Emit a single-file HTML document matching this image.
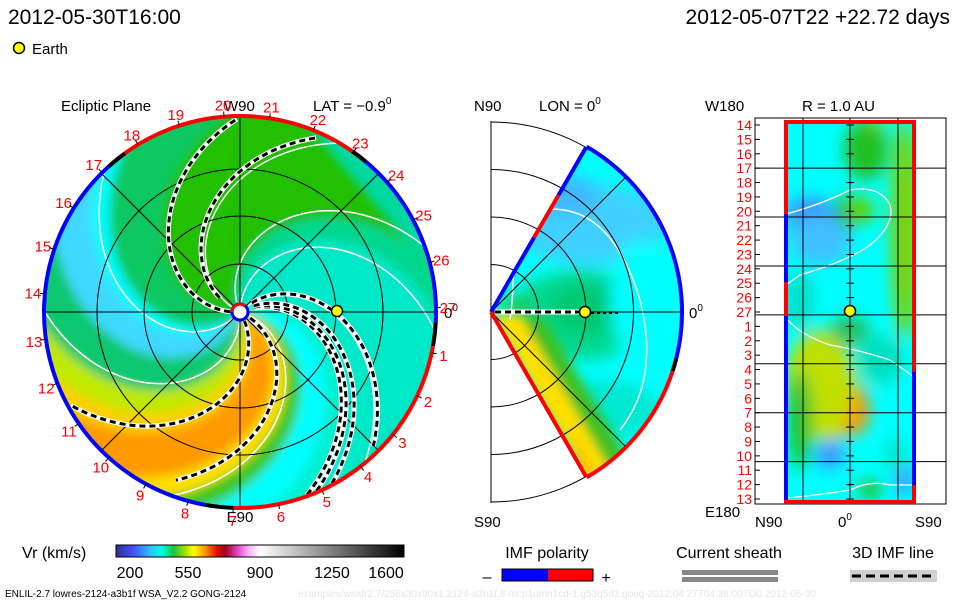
<!DOCTYPE html>
<html><head><meta charset="utf-8">
<style>
html,body{margin:0;padding:0;background:#fff;}
svg{display:block;font-family:"Liberation Sans",sans-serif;}
</style></head>
<body>
<svg id="root" width="960" height="600" viewBox="0 0 960 600" xmlns="http://www.w3.org/2000/svg">
<defs>
  <clipPath id="diskClip"><circle cx="240" cy="312" r="195"/></clipPath>
  <clipPath id="wedgeClip"><path d="M491,312 L586,147.5 A190,190 0 0 1 586,476.5 Z"/></clipPath>
  <clipPath id="rectClip"><rect x="786" y="122" width="129" height="380"/></clipPath>
  <clipPath id="midBox"><rect x="490" y="118" width="200" height="386"/></clipPath>
  <filter id="blur4" x="-10%" y="-10%" width="120%" height="120%"><feGaussianBlur stdDeviation="5"/></filter>
  <filter id="blur8" x="-30%" y="-30%" width="160%" height="160%"><feGaussianBlur stdDeviation="8"/></filter>
  <linearGradient id="cbar" x1="0" x2="1" y1="0" y2="0">
    <stop offset="0" stop-color="#303090"/>
    <stop offset="0.06" stop-color="#4050ff"/>
    <stop offset="0.12" stop-color="#30c0ff"/>
    <stop offset="0.16" stop-color="#00ffe0"/>
    <stop offset="0.2" stop-color="#20c040"/>
    <stop offset="0.24" stop-color="#a0e000"/>
    <stop offset="0.27" stop-color="#ffff00"/>
    <stop offset="0.31" stop-color="#ff9000"/>
    <stop offset="0.35" stop-color="#e01000"/>
    <stop offset="0.38" stop-color="#a00020"/>
    <stop offset="0.42" stop-color="#e040c0"/>
    <stop offset="0.46" stop-color="#ffb0ff"/>
    <stop offset="0.5" stop-color="#ffffff"/>
    <stop offset="1" stop-color="#000000"/>
  </linearGradient>
</defs>

<text x="8" y="24" font-size="21" fill="#000">2012-05-30T16:00</text>
<text x="950" y="24" font-size="21" fill="#000" text-anchor="end">2012-05-07T22 +22.72 days</text>
<circle cx="19" cy="48" r="5.5" fill="#ffff00" stroke="#000" stroke-width="1.5"/>
<text x="32" y="54" font-size="15" fill="#000">Earth</text>

<text x="61" y="111" font-size="15">Ecliptic Plane</text>
<text x="313" y="111" font-size="15">LAT = −0.9<tspan font-size="10" dy="-7">0</tspan></text>
<text x="224" y="111" font-size="15">W90</text>
<text x="240" y="522" font-size="15" text-anchor="middle">E90</text>
<text x="444" y="318" font-size="15">0<tspan font-size="10" dy="-7">0</tspan></text>

<text x="474" y="111" font-size="15">N90</text>
<text x="539" y="111" font-size="15">LON = 0<tspan font-size="10" dy="-7">0</tspan></text>
<text x="474" y="527" font-size="15">S90</text>
<text x="689" y="318" font-size="15">0<tspan font-size="10" dy="-7">0</tspan></text>

<text x="705" y="111" font-size="15">W180</text>
<text x="802" y="111" font-size="15">R = 1.0 AU</text>
<text x="705" y="517" font-size="15">E180</text>
<text x="755" y="527" font-size="15">N90</text>
<text x="838" y="527" font-size="15">0<tspan font-size="10" dy="-7">0</tspan></text>
<text x="915" y="527" font-size="15">S90</text>

<g id="left"></g>
<g id="mid"></g>
<g id="right"></g>

<text x="22" y="558" font-size="16">Vr (km/s)</text>
<rect x="116" y="545" width="288" height="12" fill="url(#cbar)" stroke="#000" stroke-width="1"/>
<g id="cbarTicks"></g>

<text x="547" y="558" font-size="16" text-anchor="middle">IMF polarity</text>
<text x="487" y="582" font-size="16" text-anchor="middle">–</text>
<rect x="502" y="569" width="46" height="12" fill="#0000ff"/>
<rect x="548" y="569" width="45" height="12" fill="#ff0000"/>
<rect x="502" y="569" width="91" height="12" fill="none" stroke="#000" stroke-width="1"/>
<text x="606" y="583" font-size="16" text-anchor="middle">+</text>

<text x="729" y="558" font-size="16" text-anchor="middle">Current sheath</text>
<rect x="682" y="570" width="96" height="5" fill="#888"/>
<rect x="682" y="577" width="96" height="5" fill="#888"/>

<text x="893" y="558" font-size="16" text-anchor="middle">3D IMF line</text>
<rect x="850" y="570" width="87" height="12" fill="#d0d0d0"/>
<line x1="852" y1="576" x2="936" y2="576" stroke="#000" stroke-width="3" stroke-dasharray="9,5"/>

<text x="5" y="597" font-size="10" fill="#000">ENLIL-2.7 lowres-2124-a3b1f WSA_V2.2 GONG-2124</text>
<text x="298" y="597" font-size="10" fill="#e6e6e6">examples/wsafr2.7/256x30x90x1.2124-a3b1f.8-mcp1umn1cd-1.g53q5d2.gong-2012:04:27T04:38:00TO0    2012-05-30</text>
</svg>

<script>
const cbarTicks = [200, 550, 900, 1250, 1600];
const sectorLabels = [1,2,3,4,5,6,7,8,9,10,11,12,13,14,15,16,17,18,19,20,21,22,23,24,25,26,27];
const bandStart = [-60, 0, 15, 95, 128, 138, 160, 185, 200, 212, 238, 250, 262, 280];
const bandEnd   = [0, 15, 95, 128, 138, 160, 185, 200, 212, 238, 250, 262, 280, 300];
const bandColor = ['#00e8c8','#00d890','#22c000','#10c860','#00ffff','#40d8ff','#10c870','#c0e800','#ffd000','#ff9a00','#ffe000','#40c820','#00ffff','#00f0d0'];
const dashRim = [-70, -67, -62, -48, 208, 90, 64, 242];
const dashR0  = [15, 15, 15, 15, 10, 10, 25, 12];
const dashR1  = [195, 195, 195, 190, 195, 195, 190, 180];
const whiteRim = [134, -5, 180, 20, 250, -50, 60];
const rowLines = [3, 6.4, 9.8, 13.2, 16.6, 20, 23.4];

const NS = 'http://www.w3.org/2000/svg';
function mk(tag, attrs, parent){ const e=document.createElementNS(NS,tag); for(const k in attrs) e.setAttribute(k,attrs[k]); parent.appendChild(e); return e; }

const L = document.getElementById('left');
const cx=240, cy=312, R=195, C=120;
function spiralPt(rimDeg, r){ const phi = rimDeg*Math.PI/180 + (R - r)/C; return [cx + r*Math.cos(phi), cy - r*Math.sin(phi)]; }
function spiralPath(rimDeg, r0, r1){ let d=''; for(let r=r0;r<=r1;r+=3){ const p=spiralPt(rimDeg,r); d+=(d?'L':'M')+p[0].toFixed(1)+','+p[1].toFixed(1);} return d; }

const bandG = mk('g',{'clip-path':'url(#diskClip)'},L);
mk('circle',{cx:cx,cy:cy,r:R,fill:'#00d8a0'},bandG);
const bandInner = mk('g',{filter:'url(#blur4)'},bandG);
for(let i=0;i<bandStart.length;i++){
  let pts=[];
  for(let r=0;r<=R+30;r+=4) pts.push(spiralPt(bandStart[i],r));
  for(let r=R+30;r>=0;r-=4) pts.push(spiralPt(bandEnd[i],r));
  const p = mk('polygon',{points:pts.map(q=>q[0].toFixed(1)+','+q[1].toFixed(1)).join(' '),fill:bandColor[i]},bandInner);
  
  
}
for(const w of whiteRim){
  const p = mk('path',{d:spiralPath(w,10,R+5),fill:'none',stroke:'#fff','stroke-width':1.5},bandG);
  
  
}
const gridG = mk('g',{'clip-path':'url(#diskClip)',stroke:'#000','stroke-width':1,fill:'none'},L);
[48,96,143].forEach(r=>mk('circle',{cx:cx,cy:cy,r:r},gridG));
[0,45,90,135].forEach(a=>{const t=a*Math.PI/180; mk('line',{x1:cx-R*Math.cos(t),y1:cy+R*Math.sin(t),x2:cx+R*Math.cos(t),y2:cy-R*Math.sin(t)},gridG);});
for(let i=0;i<dashRim.length;i++){
  const d = spiralPath(dashRim[i],dashR0[i],dashR1[i]);
  const g = mk('g',{'clip-path':'url(#diskClip)'},L);
  
  
  mk('path',{d:d,fill:'none',stroke:'#fff','stroke-width':5},g);
  mk('path',{d:d,fill:'none',stroke:'#000','stroke-width':3,'stroke-dasharray':'6,4'},g);
}
function arc(r,a0,a1){ const p0=[cx+r*Math.cos(a0*Math.PI/180), cy-r*Math.sin(a0*Math.PI/180)], p1=[cx+r*Math.cos(a1*Math.PI/180), cy-r*Math.sin(a1*Math.PI/180)]; const large=Math.abs(a1-a0)>180?1:0; return `M${p0[0]},${p0[1]} A${r},${r} 0 ${large} 0 ${p1[0]},${p1[1]}`; }
const rimSegs = [[52,128,'#ff0000'],[-3,52,'#0000ff'],[-10,-3,'#000'],[-92,-10,'#ff0000'],[-100,-92,'#000'],[128,260,'#0000ff'],[126,132,'#000'],[50,55,'#000']];
rimSegs.forEach(s=>{ const p=mk('path',{d:arc(R+1,s[0],s[1]),fill:'none',stroke:s[2],'stroke-width':4},L);   });
sectorLabels.forEach((k,i)=>{
  const a = (-12 - i*360/27)*Math.PI/180;
  const t = mk('text',{x:cx+208*Math.cos(a),y:cy-208*Math.sin(a)+6,'font-size':15,fill:'#ff0000','text-anchor':'middle'},L);
  t.textContent = k;
  
  
  mk('line',{x1:cx+196*Math.cos(a),y1:cy-196*Math.sin(a),x2:cx+201*Math.cos(a),y2:cy-201*Math.sin(a),stroke:'#000'},L);
});
const sun = mk('circle',{cx:cx,cy:cy,r:8,fill:'#fff',stroke:'#0000ff','stroke-width':3},L);


mk('path',{d:`M${cx-8},${cy} A8,8 0 0 1 ${cx+5},${cy-6}`,fill:'none',stroke:'#ff0000','stroke-width':3},L);
const e1 = mk('circle',{cx:337,cy:311,r:5.5,fill:'#ffff00',stroke:'#000','stroke-width':1.5},L);



const M = document.getElementById('mid');
const mx=491, my=312, MR=190;
const wg = mk('g',{'clip-path':'url(#wedgeClip)'},M);
mk('rect',{x:490,y:140,width:200,height:340,fill:'#00ffff'},wg);
const wb = mk('g',{filter:'url(#blur8)'},wg);
mk('ellipse',{cx:590,cy:225,rx:75,ry:40,fill:'#40d0ff'},wb);
mk('ellipse',{cx:560,cy:195,rx:40,ry:20,fill:'#40b8ff'},wb);
mk('ellipse',{cx:580,cy:315,rx:70,ry:45,fill:'#00d890'},wb);
mk('ellipse',{cx:585,cy:310,rx:35,ry:25,fill:'#00c870'},wb);
mk('ellipse',{cx:640,cy:300,rx:30,ry:60,fill:'#00ffff'},wb);
mk('ellipse',{cx:600,cy:410,rx:60,ry:30,fill:'#00e8d0'},wb);
mk('ellipse',{cx:515,cy:305,rx:18,ry:8,fill:'#20c040'},wb);
const sg = mk('g',{filter:'url(#blur4)'},wg);


mk('path',{d:'M491,314 L586,478 L610,470 L520,315 Z',fill:'#ffe000'},sg);
mk('path',{d:'M520,315 L610,470 L630,462 L545,320 Z',fill:'#40c020'},sg);
mk('path',{d:'M571,430 L600,480 L580,480 Z',fill:'#ffc000'},sg);
mk('path',{d:'M500,232 Q520,240 510,320',fill:'none',stroke:'#fff','stroke-width':1.5},wg);
mk('path',{d:'M540,210 Q610,200 640,300 Q660,380 620,430',fill:'none',stroke:'#fff','stroke-width':1.5},wg);
const mg = mk('g',{'clip-path':'url(#midBox)',stroke:'#000','stroke-width':1,fill:'none'},M);
[47.5,95,142.5,190].forEach(r=>mk('path',{d:`M${mx},${my-r} A${r},${r} 0 0 1 ${mx},${my+r}`},mg));
mk('line',{x1:mx,y1:121,x2:mx,y2:503},mg);
mk('line',{x1:mx,y1:my,x2:mx+MR,y2:my},mg);
mk('line',{x1:mx,y1:my,x2:mx+MR*0.7071,y2:my-MR*0.7071},mg);
mk('line',{x1:mx,y1:my,x2:mx+MR*0.7071,y2:my+MR*0.7071},mg);
function mpt(deg,r){return [mx+r*Math.cos(deg*Math.PI/180), my-r*Math.sin(deg*Math.PI/180)];}
function mline(deg,r0,r1,col){const a=mpt(deg,r0),b=mpt(deg,r1); const l=mk('line',{x1:a[0],y1:a[1],x2:b[0],y2:b[1],stroke:col,'stroke-width':4},M);  }
mline(60,0,86,'#0000ff'); mline(60,86,135,'#ff0000'); mline(60,135,MR,'#0000ff'); mline(-60,0,MR,'#ff0000');
function marc(a0,a1,col){const p0=mpt(a0,MR+1),p1=mpt(a1,MR+1); const p=mk('path',{d:`M${p0[0]},${p0[1]} A${MR+1},${MR+1} 0 0 1 ${p1[0]},${p1[1]}`,fill:'none',stroke:col,'stroke-width':4},M);  }
marc(60,-14,'#0000ff'); marc(-14,-18,'#000'); marc(-18,-60,'#ff0000');
mk('path',{d:`M${mx+4},${my} L${mx+94},${my}`,stroke:'#fff','stroke-width':5},M);
mk('path',{d:`M${mx+4},${my} L${mx+94},${my}`,stroke:'#000','stroke-width':3,'stroke-dasharray':'6,4'},M);
mk('path',{d:`M${mx+100},${my+1} L${mx+128},${my+1}`,stroke:'#000','stroke-width':2,'stroke-dasharray':'3,3'},M);
const e2 = mk('circle',{cx:585,cy:312,r:5.5,fill:'#ffff00',stroke:'#000','stroke-width':1.5},M);



const Rg = document.getElementById('right');
const rx0=786, rx1=915, ry0=122, ry1=502;
const rc = mk('g',{'clip-path':'url(#rectClip)'},Rg);
mk('rect',{x:rx0,y:ry0,width:rx1-rx0,height:ry1-ry0,fill:'#00ffff'},rc);
const rb = mk('g',{filter:'url(#blur8)'},rc);
const blobs=[[870,135,15,18,'#c0e000'],[866,150,22,30,'#20c020'],[845,215,12,20,'#20c040'],[860,210,14,14,'#60d000'],[810,215,25,18,'#4090ff'],[820,240,30,25,'#40c0ff'],[905,230,10,90,'#ffb000'],[905,230,14,110,'#80d000'],[830,400,30,40,'#ffb000'],[855,410,14,25,'#ff9000'],[820,385,35,55,'#c0e000'],[800,420,12,50,'#20c030'],[850,330,20,15,'#20c060'],[880,360,25,25,'#00e0c0'],[830,455,14,14,'#4090ff'],[870,490,12,10,'#20c020'],[895,455,12,20,'#00e8d0'],[800,300,15,30,'#00e0c8'],[905,480,8,16,'#4090ff']];
blobs.forEach(b=>{ const e=mk('ellipse',{cx:b[0],cy:b[1],rx:b[2],ry:b[3],fill:b[4]},rb);   });
mk('path',{d:'M786,214 Q820,205 850,190 Q880,185 890,205 Q895,225 870,245 Q850,260 800,275 L786,285',fill:'none',stroke:'#fff','stroke-width':1.3},rc);
mk('path',{d:'M786,318 Q800,335 830,345 Q860,350 890,360 Q905,370 915,378',fill:'none',stroke:'#fff','stroke-width':1.3},rc);
mk('path',{d:'M786,498 Q820,495 850,490 Q870,480 890,485 L915,485',fill:'none',stroke:'#fff','stroke-width':1.3},rc);
const rgG = mk('g',{stroke:'#000','stroke-width':1,fill:'none'},Rg);
mk('rect',{x:755,y:118,width:191,height:386},rgG);
[803,850,898].forEach(x=>mk('line',{x1:x,y1:118,x2:x,y2:504},rgG));
const rowH=(ry1-ry0-6)/26;
rowLines.forEach(r=>mk('line',{x1:755,y1:ry0+3+r*rowH,x2:946,y2:ry0+3+r*rowH},rgG));
const rowLabels=[14,15,16,17,18,19,20,21,22,23,24,25,26,27,1,2,3,4,5,6,7,8,9,10,11,12,13];
rowLabels.forEach((k,i)=>{
  const y=ry0+3+i*rowH;
  const t=mk('text',{x:752,y:y+5,'font-size':14,fill:'#ff0000','text-anchor':'end'},Rg);
  t.textContent=k;
  
  
  mk('line',{x1:755,y1:y,x2:760,y2:y,stroke:'#000'},Rg);
  mk('line',{x1:846,y1:y,x2:854,y2:y,stroke:'#000'},Rg);
});
function vseg(x,y0,y1,col){const l=mk('line',{x1:x,y1:y0,x2:x,y2:y1,stroke:col,'stroke-width':4},Rg);  }
vseg(786,122,214,'#ff0000'); vseg(786,214,282,'#0000ff'); vseg(786,282,316,'#ff0000'); vseg(786,316,502,'#0000ff');
vseg(914,122,372,'#ff0000'); vseg(914,372,485,'#0000ff'); vseg(914,485,502,'#ff0000');
mk('line',{x1:784,y1:122,x2:916,y2:122,stroke:'#ff0000','stroke-width':4},Rg);
mk('line',{x1:784,y1:502,x2:916,y2:502,stroke:'#ff0000','stroke-width':4},Rg);
const e3=mk('circle',{cx:850,cy:311,r:5.5,fill:'#ffff00',stroke:'#000','stroke-width':1.5},Rg);



const CB = document.getElementById('cbarTicks');
const vmin=200, vmax=1600, bx0=116, bw=288;
cbarTicks.forEach(v=>{
  const x = bx0 + (v-vmin)/(vmax-vmin)*bw;
  const t=mk('text',{x:Math.min(Math.max(x,bx0+14),bx0+bw-18),y:578,'font-size':16,'text-anchor':'middle'},CB);
  t.textContent=v;
  
  
});
</script>
</body></html>
